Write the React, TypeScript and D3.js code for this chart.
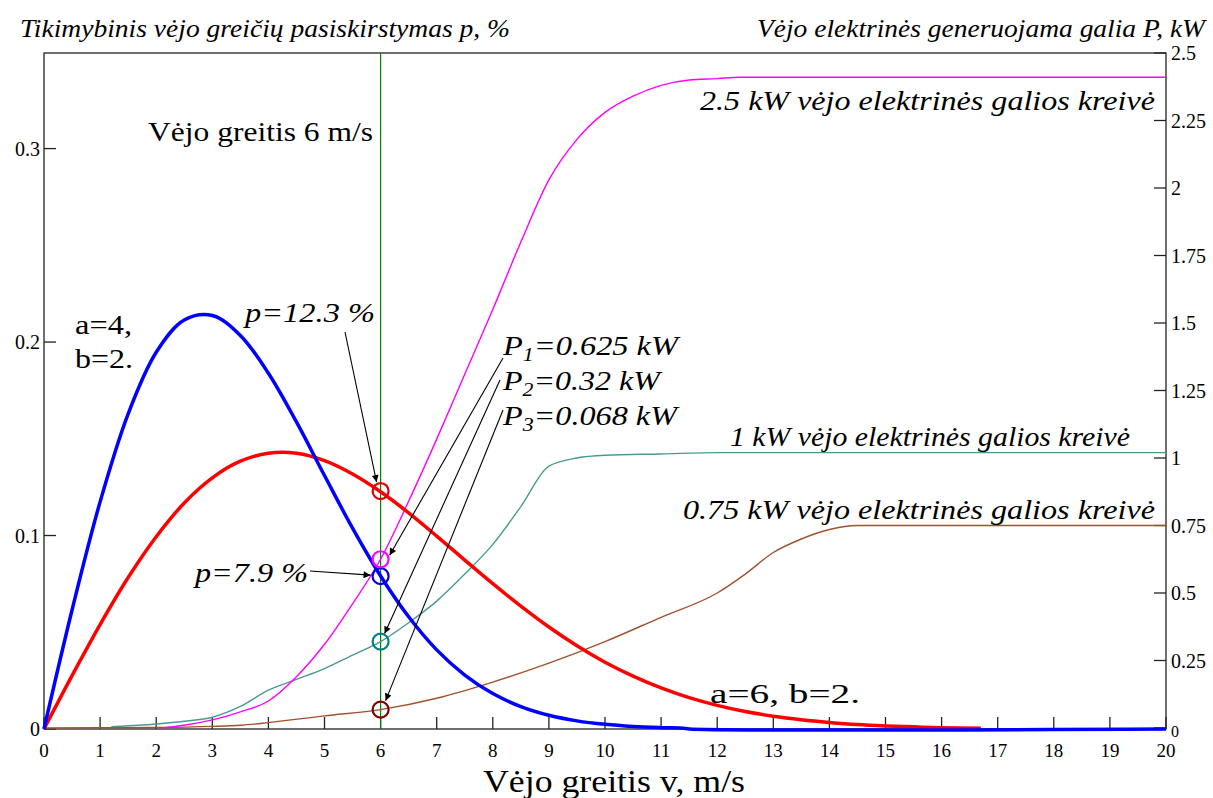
import React, { useEffect, useRef } from 'react';
import * as d3 from 'd3';

// Weibull probability curves (left axis)
const blueSpeed = [0, 0.5, 1, 1.5, 2, 2.5, 3, 3.5, 4, 4.5, 5, 5.5, 6, 6.5, 7, 7.5, 8, 8.5, 9, 9.5, 10, 10.5, 11, 11.4, 11.5, 20];
const blueP = [0, 0.0615, 0.1174, 0.1629, 0.1947, 0.2114, 0.2137, 0.2034, 0.1839, 0.1587, 0.131, 0.1038, 0.0791, 0.058, 0.0409, 0.0279, 0.0183, 0.0116, 0.0071, 0.0042, 0.0024, 0.0013, 0.0007, 0.0004, 0, 0];

const redSpeed = [0, 0.5, 1, 1.5, 2, 2.5, 3, 3.5, 4, 4.5, 5, 5.5, 6, 6.5, 7, 7.5, 8, 8.5, 9, 9.5, 10, 10.5, 11, 11.5, 12, 12.5, 13, 13.5, 14, 14.5, 15, 15.5, 16, 16.7];
const redP = [0, 0.0276, 0.054, 0.0783, 0.0994, 0.1168, 0.1298, 0.1384, 0.1425, 0.1425, 0.1387, 0.1318, 0.1226, 0.1117, 0.0997, 0.0873, 0.0751, 0.0635, 0.0527, 0.043, 0.0345, 0.0273, 0.0212, 0.0162, 0.0122, 0.009, 0.0066, 0.0048, 0.0034, 0.0023, 0.0016, 0.0011, 0.0007, 0.0004];

// power curves (right axis, kW)
const magSpeed = [2.1, 2.5, 3, 3.5, 4, 4.5, 5, 5.5, 6, 6.5, 7, 7.5, 8, 8.5, 9, 9.5, 10, 10.5, 11, 11.5, 12, 12.4, 20];
const magP = [0, 0.01, 0.03, 0.06, 0.1, 0.19, 0.31, 0.46, 0.625, 0.84, 1.07, 1.31, 1.55, 1.8, 2.03, 2.18, 2.28, 2.34, 2.38, 2.4, 2.405, 2.41, 2.41];

const tealSpeed = [1.2, 2, 2.5, 3, 3.5, 4, 4.5, 5, 5.5, 6, 6.5, 7, 7.5, 8, 8.5, 9, 9.5, 10, 11, 12, 20];
const tealP = [0.005, 0.015, 0.025, 0.04, 0.08, 0.14, 0.18, 0.22, 0.27, 0.32, 0.39, 0.47, 0.57, 0.68, 0.82, 0.97, 1.0, 1.01, 1.015, 1.02, 1.02];

const brownSpeed = [0, 2, 3, 3.5, 4, 5, 6, 7, 8, 9, 10, 11, 12, 12.5, 13, 13.5, 14, 14.5, 20];
const brownP = [0, 0.002, 0.006, 0.01, 0.02, 0.045, 0.068, 0.11, 0.17, 0.24, 0.32, 0.41, 0.5, 0.57, 0.65, 0.7, 0.735, 0.75, 0.75];

const xTicks = d3.range(0, 21);
const leftTicks = [0, 0.1, 0.2, 0.3];
const leftTickLabels = ['0', '0.1', '0.2', '0.3'];
const rightTicks = [0, 0.25, 0.5, 0.75, 1, 1.25, 1.5, 1.75, 2, 2.25, 2.5];
const rightTickLabels = ['0', '0.25', '0.5', '0.75', '1', '1.25', '1.5', '1.75', '2', '2.25', '2.5'];

const markSpeed = 6;
const pRed = 0.123;
const pBlue = 0.079;
const P1 = 0.625;
const P2 = 0.32;
const P3 = 0.068;

const serif = "'Liberation Serif', 'Times New Roman', Times, 'DejaVu Serif', serif";

export default function App() {
  const ref = useRef<SVGSVGElement>(null);

  useEffect(() => {
    const svg = d3.select(ref.current);
    svg.selectAll('*').remove();

    const x = d3.scaleLinear().domain([0, 20]).range([44, 1166]);
    const yL = d3.scaleLinear().domain([0, 0.3494]).range([729, 53]);
    const yR = d3.scaleLinear().domain([0, 2.5]).range([728, 53]);

    svg.append('defs').append('marker')
      .attr('id', 'arr')
      .attr('viewBox', '0 0 10 10')
      .attr('refX', 10).attr('refY', 5)
      .attr('markerWidth', 10).attr('markerHeight', 7)
      .attr('markerUnits', 'userSpaceOnUse')
      .attr('orient', 'auto')
      .append('path').attr('d', 'M0,0 L10,5 L0,10 z').attr('fill', '#000');

    // frame
    svg.append('rect')
      .attr('x', x(0)).attr('y', 53)
      .attr('width', x(20) - x(0)).attr('height', 729 - 53)
      .attr('fill', 'none').attr('stroke', '#222').attr('stroke-width', 1.3);

    // ticks
    const g = svg.append('g').attr('stroke', '#222').attr('stroke-width', 1.3);
    g.selectAll('.xt').data(xTicks).enter().append('line')
      .attr('x1', d => x(d)).attr('x2', d => x(d))
      .attr('y1', 729).attr('y2', 717);
    g.selectAll('.lt').data(leftTicks).enter().append('line')
      .attr('x1', x(0)).attr('x2', x(0) + 12)
      .attr('y1', d => yL(d)).attr('y2', d => yL(d));
    g.selectAll('.rt').data(rightTicks).enter().append('line')
      .attr('x1', x(20) - 12).attr('x2', x(20))
      .attr('y1', d => yR(d)).attr('y2', d => yR(d));

    // tick labels
    svg.selectAll('.xl').data(xTicks).enter().append('text')
      .attr('x', d => x(d)).attr('y', 757)
      .attr('text-anchor', 'middle')
      .attr('font-family', serif).attr('font-size', 19)
      .text(d => String(d));
    svg.selectAll('.ll').data(leftTicks).enter().append('text')
      .attr('x', 40).attr('y', d => yL(d) + 7)
      .attr('text-anchor', 'end')
      .attr('font-family', serif).attr('font-size', 20)
      .text((d, i) => leftTickLabels[i]);
    svg.selectAll('.rl').data(rightTicks).enter().append('text')
      .attr('x', 1171).attr('y', d => yR(d) + (d === 0 ? 9 : 7))
      .attr('font-family', serif).attr('font-size', d => (d === 0 ? 16 : 20))
      .text((d, i) => rightTickLabels[i]);

    // vertical marker line
    svg.append('line')
      .attr('x1', x(markSpeed)).attr('x2', x(markSpeed))
      .attr('y1', 53).attr('y2', 729)
      .attr('stroke', '#008000').attr('stroke-width', 1.2);

    const drawLine = (xs: number[], ys: number[], y: d3.ScaleLinear<number, number>, color: string, w: number, curve: d3.CurveFactory) => {
      const line = d3.line<number>()
        .x((d, i) => x(xs[i]))
        .y(d => y(d))
        .curve(curve);
      svg.append('path')
        .attr('d', line(ys))
        .attr('fill', 'none')
        .attr('stroke', color)
        .attr('stroke-width', w)
        .attr('stroke-linejoin', 'round');
    };

    drawLine(brownSpeed, brownP, yR, '#a0522d', 1.4, d3.curveMonotoneX);
    drawLine(tealSpeed, tealP, yR, '#4a9a94', 1.4, d3.curveMonotoneX);
    drawLine(magSpeed, magP, yR, '#ff00ff', 1.4, d3.curveMonotoneX);
    drawLine(redSpeed, redP, yL, '#ff0000', 3.5, d3.curveCatmullRom.alpha(0.5));
    drawLine(blueSpeed, blueP, yL, '#0000ff', 3.5, d3.curveCatmullRom.alpha(0.5));

    // circles
    const circles: [number, string][] = [
      [yL(pRed), '#e00000'],
      [yL(pBlue), '#0000e0'],
      [yR(P1), '#ff00ff'],
      [yR(P2), '#008080'],
      [yR(P3), '#800000'],
    ];
    svg.selectAll('.c').data(circles).enter().append('circle')
      .attr('cx', x(markSpeed)).attr('cy', d => d[0]).attr('r', 8)
      .attr('fill', 'none').attr('stroke', d => d[1]).attr('stroke-width', 2.2);

    // arrows
    const arrows: [number, number, number, number][] = [
      [345, 332, x(markSpeed) - 4, yL(pRed) - 9],
      [310, 571, x(markSpeed) - 10, yL(pBlue) - 1],
      [503, 358, x(markSpeed) + 9, yR(P1) - 4],
      [500, 380, x(markSpeed) + 4, yR(P2) - 8],
      [503, 410, x(markSpeed) + 5, yR(P3) - 9],
    ];
    svg.selectAll('.a').data(arrows).enter().append('line')
      .attr('x1', d => d[0]).attr('y1', d => d[1])
      .attr('x2', d => d[2]).attr('y2', d => d[3])
      .attr('stroke', '#000').attr('stroke-width', 1.1)
      .attr('marker-end', 'url(#arr)');

    const txt = (tx: number, ty: number, s: string, size: number, italic: boolean, len: number, anchor = 'start') =>
      svg.append('text')
        .attr('x', tx).attr('y', ty)
        .attr('font-family', serif).attr('font-size', size)
        .attr('font-style', italic ? 'italic' : 'normal')
        .attr('text-anchor', anchor)
        .attr('textLength', len).attr('lengthAdjust', 'spacingAndGlyphs')
        .text(s);

    // titles
    txt(20, 37, 'Tikimybinis vėjo greičių pasiskirstymas p, %', 25, true, 490);
    txt(757, 37, 'Vėjo elektrinės generuojama galia P, kW', 25, true, 448);
    txt(614, 792, 'Vėjo greitis v, m/s', 31, false, 262, 'middle');

    txt(148, 141, 'Vėjo greitis 6 m/s', 28, false, 225);
    txt(75, 334, 'a=4,', 28, false, 57);
    txt(75, 368, 'b=2.', 28, false, 58);
    txt(710, 703, 'a=6, b=2.', 28, false, 150);
    txt(245, 322, 'p=12.3 %', 28, true, 130);
    txt(195, 582, 'p=7.9 %', 28, true, 113);

    const sub = (tx: number, ty: number, n: string, rest: string, len: number) => {
      const t = svg.append('text')
        .attr('x', tx).attr('y', ty)
        .attr('font-family', serif).attr('font-size', 28)
        .attr('font-style', 'italic')
        .attr('textLength', len).attr('lengthAdjust', 'spacingAndGlyphs');
      t.append('tspan').text('P');
      t.append('tspan').attr('font-size', 19).attr('dy', 6).text(n);
      t.append('tspan').attr('dy', -6).text(rest);
    };
    sub(503, 355, '1', '=0.625 kW', 175);
    sub(503, 390, '2', '=0.32 kW', 157);
    sub(503, 425, '3', '=0.068 kW', 174);

    txt(1155, 110, '2.5 kW vėjo elektrinės galios kreivė', 28, true, 455, 'end');
    txt(1130, 446, '1 kW vėjo elektrinės galios kreivė', 28, true, 400, 'end');
    txt(1155, 519, '0.75 kW vėjo elektrinės galios kreivė', 28, true, 472, 'end');
  }, []);

  return (
    <svg ref={ref} width={1213} height={798} style={{ position: 'absolute', left: 0, top: 0, background: '#fff' }} />
  );
}
